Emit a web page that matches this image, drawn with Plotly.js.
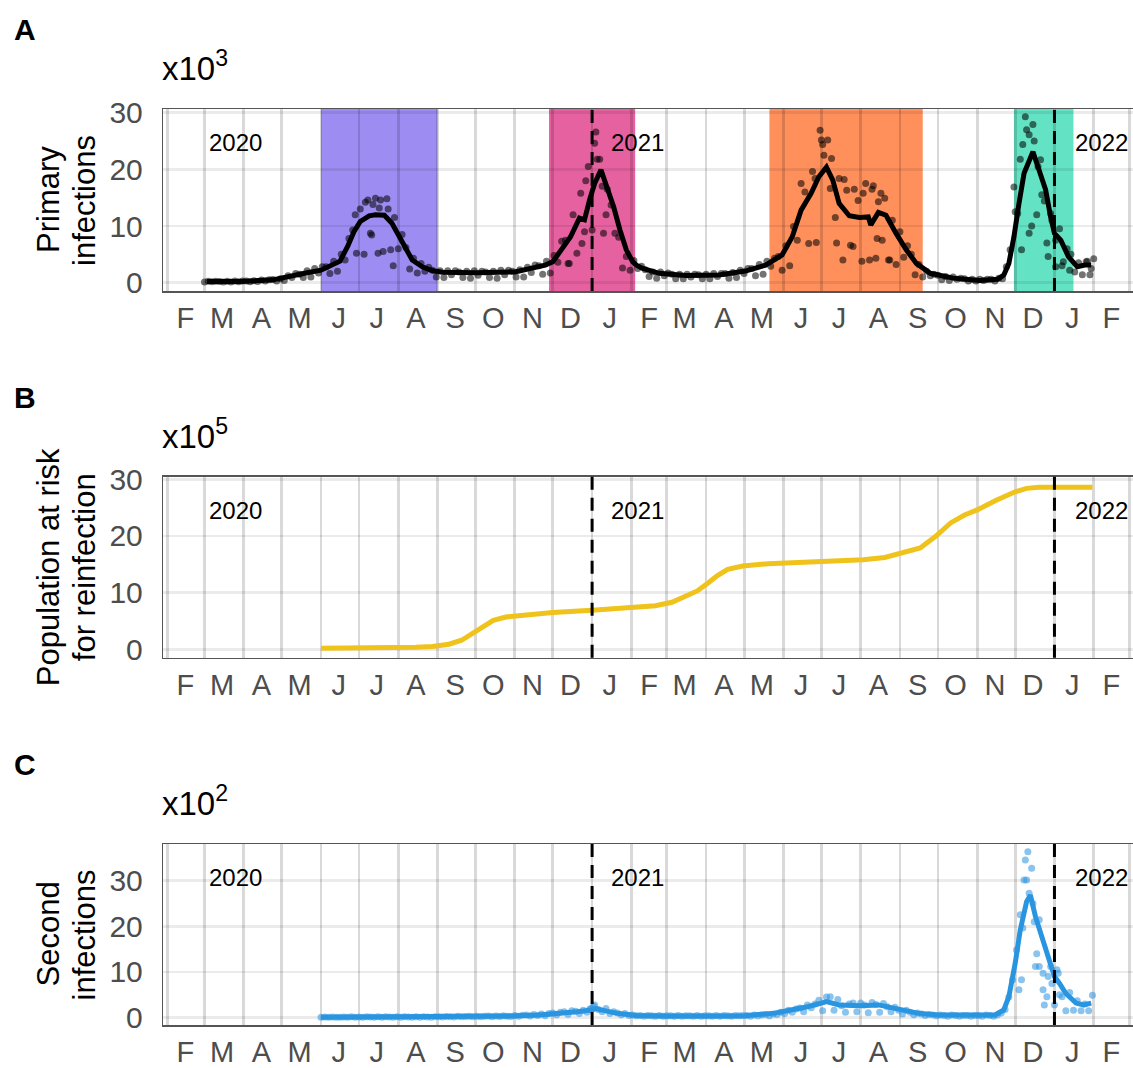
<!DOCTYPE html>
<html><head><meta charset="utf-8">
<script src="https://cdn.plot.ly/plotly-3.0.1.min.js"></script>
<style>html,body{margin:0;padding:0;background:#fff}#chart{width:1133px;height:1068px}</style>
</head><body><div id="chart"></div>
<script>
// ---------- DATA ----------
const monthLetters = ['F','M','A','M','J','J','A','S','O','N','D','J','F','M','A','M','J','J','A','S','O','N','D','J','F'];
const firstMonth = '2020-02';
const yTicks = [0,10,20,30];
const yearLabels = ['2020','2021','2022'];
const yearLabelDates = ['2020-03-03','2021-01-14','2022-01-16'];
const yearStarts = ['2021-01-01','2022-01-01'];
const panelLetters = ['A','B','C'];
const scaleExponents = ['3','5','2'];
const yTitleLines = [['Primary','infections'],['Population at risk','for reinfection'],['Second','infections']];

// waves shaded in panel A
const waveStarts = ['2020-06-01','2020-11-28','2021-05-21','2021-11-30'];
const waveEnds   = ['2020-09-01','2021-02-04','2021-09-19','2022-01-16'];

// Panel A: primary infections (x10^3) – smoothed line
const lineADates = ['2020-03-03','2020-03-29','2020-04-24','2020-05-07','2020-05-20','2020-06-01','2020-06-10','2020-06-16','2020-06-22','2020-06-27','2020-07-02','2020-07-09','2020-07-14','2020-07-21','2020-07-27','2020-08-02','2020-08-07','2020-08-12','2020-08-20','2020-08-28','2020-09-05','2020-10-01','2020-11-01','2020-11-15','2020-11-25','2020-12-01','2020-12-08','2020-12-15','2020-12-22','2020-12-26','2020-12-30','2021-01-03','2021-01-08','2021-01-12','2021-01-18','2021-01-23','2021-01-28','2021-02-02','2021-02-05','2021-02-10','2021-02-23','2021-03-16','2021-04-11','2021-05-02','2021-05-18','2021-05-31','2021-06-08','2021-06-15','2021-06-23','2021-06-29','2021-07-05','2021-07-10','2021-07-15','2021-07-23','2021-07-31','2021-08-07','2021-08-09','2021-08-15','2021-08-21','2021-08-29','2021-09-06','2021-09-14','2021-09-25','2021-10-13','2021-11-03','2021-11-17','2021-11-22','2021-11-26','2021-11-30','2021-12-04','2021-12-08','2021-12-15','2021-12-20','2021-12-25','2021-12-29','2022-01-01','2022-01-06','2022-01-12','2022-01-19','2022-01-25','2022-01-30'];
const lineA = [0.2,0.2,0.5,1.0,1.7,2.2,3.1,3.8,6.4,9.0,10.8,11.8,12.0,11.9,10.5,8.1,5.8,4.0,2.8,2.1,1.85,1.75,1.9,2.5,3.1,3.7,5.8,8.1,11.4,11.1,14.6,17.5,19.9,17.5,13.4,9.3,5.8,3.7,3.1,2.5,1.65,1.25,1.35,2.05,3.1,4.9,8.1,12.8,15.8,18.7,20.4,18.1,14.0,11.8,11.5,11.6,10.2,12.4,11.9,8.7,5.8,3.4,1.65,0.8,0.4,0.6,1.35,3.4,8.1,14.0,19.3,23.1,19.9,16.4,11.6,8.7,7.5,4.6,2.8,3.1,3.1];

// Panel A: daily counts, every 3rd day from dotsAStart
const dotsAStart = '2020-03-01';
const dotsA = [0.1,0.25,0.15,0.25,0.2,0.1,0.25,0.1,0.3,0.15,
0.3,0.3,0.15,0.35,0.2,0.45,0.3,0.5,0.55,0.3,
0.7,0.4,1.2,0.9,1.6,1.5,0.9,2.1,1.0,2.5,
1.7,2.8,2.8,1.6,3.8,2.0,5.0,4.0,7.8,9.3,
5.2,13.0,5.0,14.6,8.4,14.9,13.2,5.5,14.8,5.8,
11.5,6.0,8.5,6.2,2.4,4.3,1.7,3.4,2.0,2.7,
2.2,1.0,2.1,0.9,2.1,1.4,2.1,1.9,0.9,2.0,
0.8,2.1,1.3,2.0,1.9,0.9,2.0,0.8,2.2,1.4,
2.2,2.0,1.0,2.3,1.0,2.7,1.8,3.1,3.0,1.5,
3.8,1.7,4.8,3.6,7.3,7.5,3.4,12.0,5.2,15.8,
9.0,20.5,9.3,26.6,21.8,8.7,16.5,13.7,8.7,8.0,
2.6,4.6,2.2,3.9,2.5,2.9,2.3,1.1,1.9,0.8,
1.9,1.2,1.7,1.5,0.7,1.5,0.7,1.5,1.0,1.5,
1.4,0.7,1.5,0.7,1.6,1.1,1.6,1.6,0.8,1.8,
0.9,2.2,1.6,2.5,2.5,1.2,3.2,1.5,3.8,2.9,
4.3,4.6,2.2,6.5,3.0,9.9,7.5,17.5,16.0,6.9,
19.6,7.1,26.9,22.5,25.2,21.9,11.5,18.4,4.0,16.3,
6.6,16.5,14.5,3.8,17.5,4.0,17.1,7.8,15.8,14.9,
4.0,11.0,3.2,9.0,4.5,6.5,5.0,1.4,3.2,1.0,
2.0,1.2,1.5,1.3,0.5,1.1,0.4,1.0,0.6,0.8,
0.7,0.3,0.6,0.3,0.6,0.4,0.6,0.6,0.3,0.8,
0.7,2.8,5.8,16.9,12.2,5.8,29.3,8.7,27.9,12.0,
21.7,14.4,4.6,11.0,2.8,9.5,3.7,6.0,5.0,1.9,
3.5,1.4,3.7,1.4,4.2];
// extra daily counts around peaks
const extraADates = ['2020-06-28','2020-07-06','2020-07-10','2020-07-12','2020-07-16','2020-07-18','2020-07-24','2020-07-28','2020-12-13','2020-12-24','2020-12-27','2021-01-03','2021-01-05','2021-01-09','2021-01-12','2021-06-26','2021-07-01','2021-07-02','2021-07-08','2021-07-13','2021-07-19','2021-07-26','2021-08-03','2021-08-10','2021-08-13','2021-08-15','2021-08-18','2021-08-24','2021-12-01','2021-12-05','2021-12-07','2021-12-10','2021-12-12','2021-12-14','2021-12-16','2021-12-19','2021-12-22','2021-12-26','2021-12-29','2022-01-02','2022-01-07','2022-01-13','2022-01-27','2022-01-30'];
const extraA = [12.0,14.2,8.7,13.8,5.2,14.6,13.0,3.0,3.4,6.9,18.0,24.6,21.8,17.0,12.0,18.4,25.2,24.4,16.6,7.0,18.2,6.4,15.8,16.5,4.3,14.3,7.5,4.0,12.5,21.8,24.4,27.0,26.1,10.0,25.0,20.5,15.5,7.0,12.2,7.5,3.0,2.2,3.8,2.5];

// Panel B: population at risk for reinfection (x10^5)
const lineBDates = ['2020-06-01','2020-07-15','2020-08-15','2020-08-28','2020-09-10','2020-09-20','2020-09-28','2020-10-06','2020-10-15','2020-10-25','2020-11-10','2020-12-01','2021-01-01','2021-02-01','2021-02-20','2021-03-05','2021-03-15','2021-03-25','2021-04-02','2021-04-10','2021-04-18','2021-04-30','2021-05-20','2021-07-04','2021-08-03','2021-08-20','2021-09-02','2021-09-17','2021-09-29','2021-10-11','2021-10-22','2021-11-01','2021-11-16','2021-12-01','2021-12-10','2021-12-20','2022-01-31'];
const lineB = [0.2,0.2,0.35,0.5,0.9,1.6,2.7,4.0,5.1,5.7,6.1,6.5,6.9,7.3,7.7,8.3,9.2,10.3,11.6,13.0,14.1,14.7,15.1,15.5,15.8,16.2,17.0,17.9,19.9,22.3,23.7,24.6,26.3,27.8,28.4,28.6,28.6];

// Panel C: second infections (x10^2)
const lineCDates = ['2020-06-01','2020-08-01','2020-09-15','2020-10-15','2020-11-01','2020-11-20','2020-12-01','2020-12-20','2021-01-01','2021-01-04','2021-01-10','2021-01-20','2021-02-05','2021-03-01','2021-04-15','2021-05-01','2021-05-25','2021-06-08','2021-06-20','2021-07-01','2021-07-05','2021-07-15','2021-08-01','2021-08-15','2021-09-01','2021-09-15','2021-10-01','2021-11-15','2021-11-22','2021-11-26','2021-12-01','2021-12-05','2021-12-10','2021-12-13','2021-12-17','2021-12-22','2021-12-27','2022-01-01','2022-01-05','2022-01-10','2022-01-18','2022-01-24','2022-01-30'];
const lineC = [0.1,0.15,0.2,0.3,0.4,0.6,0.8,1.3,1.7,2.0,1.6,1.0,0.5,0.35,0.35,0.45,1.0,1.7,2.4,3.2,3.5,2.8,2.6,2.8,1.7,1.0,0.6,0.6,1.7,4.6,11.9,19.2,25.4,26.8,22.1,17.7,13.3,9.0,7.5,5.3,3.2,2.8,3.2];
const dotsCStart = '2020-06-01';
const dotsC = [0.1,0.15,0.1,0.15,0.1,0.1,0.15,0.1,0.2,0.1,0.15,0.1,0.2,0.15,0.1,0.2,0.1,0.2,0.15,0.1,0.2,0.1,0.2,0.15,0.1,0.2,0.1,0.2,0.15,0.1,0.2,
0.2,0.15,0.25,0.2,0.15,0.3,0.2,0.25,0.3,0.2,0.3,0.2,0.3,0.35,0.2,0.35,0.25,0.4,0.3,0.25,
0.5,0.3,0.55,0.6,0.35,0.7,0.5,0.8,0.45,0.9,
1.0,0.6,1.2,1.3,0.7,1.5,1.4,0.9,1.6,1.2,2.0,
2.8,1.8,1.3,2.0,0.9,1.3,1.0,0.6,0.9,0.5,
0.6,0.4,0.5,0.3,0.5,0.4,0.3,0.5,0.3,0.4,0.4,0.3,0.5,0.3,0.4,0.4,0.3,0.5,0.3,0.4,0.4,0.3,0.5,0.3,0.5,0.4,0.3,0.5,0.4,0.5,0.5,0.3,0.6,0.4,0.6,0.7,0.4,0.8,0.7,
1.2,0.9,1.6,1.2,1.9,2.1,1.3,2.8,2.2,3.0,
3.8,1.5,4.5,4.6,1.6,4.0,2.6,1.2,3.0,3.2,
1.3,3.2,2.8,1.1,3.3,2.9,1.2,3.1,2.4,1.3,
2.3,1.6,0.8,1.6,1.2,0.6,1.0,0.8,0.5,0.7,
0.6,0.4,0.6,0.5,0.3,0.6,0.5,0.3,0.5,0.5,0.3,0.5,0.5,0.3,0.6,0.5,0.3,0.6,1.0,1.8,
4.5,8.3,14.8,22.5,30.1,36.3,32.7,11.2,21.4,6.1,4.6,11.2,2.8,9.7,4.6,1.5,5.5,1.6,3.7,1.5,3.0,1.5,4.9];
const extraCDates = ['2020-12-30','2021-01-02','2021-12-04','2021-12-06','2021-12-07','2021-12-09','2021-12-10','2021-12-12','2021-12-15','2021-12-16','2021-12-18','2021-12-20','2021-12-23','2021-12-24','2021-12-27','2021-12-30','2022-01-03','2022-01-05'];
const extraC = [1.8,2.5,6.1,8.3,19.6,34.5,30.1,27.2,25.0,21.0,14.0,11.2,9.7,2.8,9.0,7.5,10.5,5.0];

// ---------- HELPERS ----------
function addDays(s, d){const t=new Date(s+'T00:00:00Z');t.setUTCDate(t.getUTCDate()+d);return t.toISOString().slice(0,10);}
function stepDates(start,n,step){const o=[];for(let i=0;i<n;i++)o.push(addDays(start,i*step));return o;}
const monthMids = monthLetters.map((m,i)=>{const d=new Date(firstMonth+'-01T00:00:00Z');d.setUTCMonth(d.getUTCMonth()+i);return d.toISOString().slice(0,8)+'15';});

// ---------- GEOMETRY ----------
const W=1133,H=1068;
const xRange=['2020-01-28 12:00','2022-03-04'];
const panels=[
 {top:109,bot:291,range:[-1.47,30.65]},
 {top:476.7,bot:657.7,range:[-1.48,30.46]},
 {top:844,bot:1025,range:[-1.6,38.0]}];
const FONT='Liberation Sans, Arial, Helvetica, sans-serif';
const GRAY='#4d4d4d';

const layout={width:W,height:H,margin:{l:0,r:0,t:0,b:0},showlegend:false,
 paper_bgcolor:'#fff',plot_bgcolor:'#fff',font:{family:FONT,color:'#000'},
 shapes:[],annotations:[]};

// wave shading in panel A (below grid)
const waveColors=['rgb(157,141,242)','rgb(229,97,160)','rgb(255,144,92)','rgb(100,226,196)'];
waveStarts.forEach((s,i)=>layout.shapes.push({type:'rect',xref:'x',yref:'y domain',x0:s,x1:waveEnds[i],y0:0,y1:1,layer:'below',fillcolor:waveColors[i],line:{width:0}}));

const yNames=['y','y2','y3'];
panels.forEach((p,k)=>{
 const sx=k===0?'':String(k+1);
 layout['xaxis'+sx]={type:'date',range:xRange,domain:[163.3/W,1],anchor:yNames[k],
  tickmode:'array',tickvals:monthMids,ticktext:monthLetters,showgrid:false,
  ticks:'outside',ticklen:1,tickcolor:'rgba(0,0,0,0)',tickfont:{size:29,color:GRAY,family:FONT},
  minor:{dtick:'M1',tick0:'2020-02-01',showgrid:true,gridcolor:'rgba(0,0,0,0.15)',gridwidth:2.8,ticks:''},
  showline:true,mirror:true,linecolor:'#555',linewidth:1.5,zeroline:false,fixedrange:true};
 layout['yaxis'+sx]={domain:[(H-p.bot)/H,(H-p.top)/H],range:p.range,anchor:'x'+sx,
  tickmode:'array',tickvals:yTicks,ticktext:yTicks.map(String),showgrid:true,gridcolor:'rgba(0,0,0,0.08)',gridwidth:2.8,
  ticks:'outside',ticklen:13,tickcolor:'rgba(0,0,0,0)',tickfont:{size:30,color:GRAY,family:FONT},
  showline:true,mirror:true,linecolor:'#555',linewidth:1.5,zeroline:false,fixedrange:true};
 const xr='x'+sx, ydom=(k===0?'y':'y'+(k+1))+' domain';
 // year dashed lines
 yearStarts.forEach(d=>layout.shapes.push({type:'line',xref:xr,yref:ydom,x0:d,x1:d,y0:0,y1:1,layer:'above',line:{color:'#000',width:3,dash:'13px,8px'}}));
 // year labels
 yearLabels.forEach((t,i)=>layout.annotations.push({text:t,xref:xr,yref:ydom,x:yearLabelDates[i],y:1,yshift:-34,xanchor:'left',yanchor:'middle',showarrow:false,font:{size:24,color:'#000',family:FONT}}));
 // panel letter
 layout.annotations.push({text:'<b>'+panelLetters[k]+'</b>',xref:'paper',yref:ydom,x:25/W,y:1,yshift:79,xanchor:'center',yanchor:'middle',showarrow:false,font:{size:30,color:'#000',family:FONT}});
 // scale factor
 layout.annotations.push({text:'x10<sup>'+scaleExponents[k]+'</sup>',xref:'paper',yref:ydom,x:160/W,y:1,yshift:43,xanchor:'left',yanchor:'middle',showarrow:false,font:{size:33,color:'#000',family:FONT}});
 // y title (two lines placed separately for tight spacing)
 [48,84].forEach((px,j)=>layout.annotations.push({text:yTitleLines[k][j],xref:'paper',yref:ydom,x:px/W,y:0.5,xanchor:'center',yanchor:'middle',textangle:-90,showarrow:false,font:{size:31,color:'#000',family:FONT}}));
});

const dotBlack='rgba(0,0,0,0.55)', dotBlue='rgba(41,148,224,0.55)';
const data=[
 {x:stepDates(dotsAStart,dotsA.length,3),y:dotsA,mode:'markers',type:'scatter',marker:{color:dotBlack,size:7},xaxis:'x',yaxis:'y',hoverinfo:'skip'},
 {x:extraADates,y:extraA,mode:'markers',type:'scatter',marker:{color:dotBlack,size:7},xaxis:'x',yaxis:'y',hoverinfo:'skip'},
 {x:lineADates,y:lineA,mode:'lines',type:'scatter',line:{color:'#000',width:5},xaxis:'x',yaxis:'y'},
 {x:lineBDates,y:lineB,mode:'lines',type:'scatter',line:{color:'#EFC31B',width:5},xaxis:'x2',yaxis:'y2'},
 {x:stepDates(dotsCStart,dotsC.length,3),y:dotsC,mode:'markers',type:'scatter',marker:{color:dotBlue,size:7},xaxis:'x3',yaxis:'y3',hoverinfo:'skip'},
 {x:extraCDates,y:extraC,mode:'markers',type:'scatter',marker:{color:dotBlue,size:7},xaxis:'x3',yaxis:'y3',hoverinfo:'skip'},
 {x:lineCDates,y:lineC,mode:'lines',type:'scatter',line:{color:'#2994E0',width:5},xaxis:'x3',yaxis:'y3'}
];
Plotly.newPlot('chart',data,layout,{displayModeBar:false,staticPlot:true});
</script></body></html>
